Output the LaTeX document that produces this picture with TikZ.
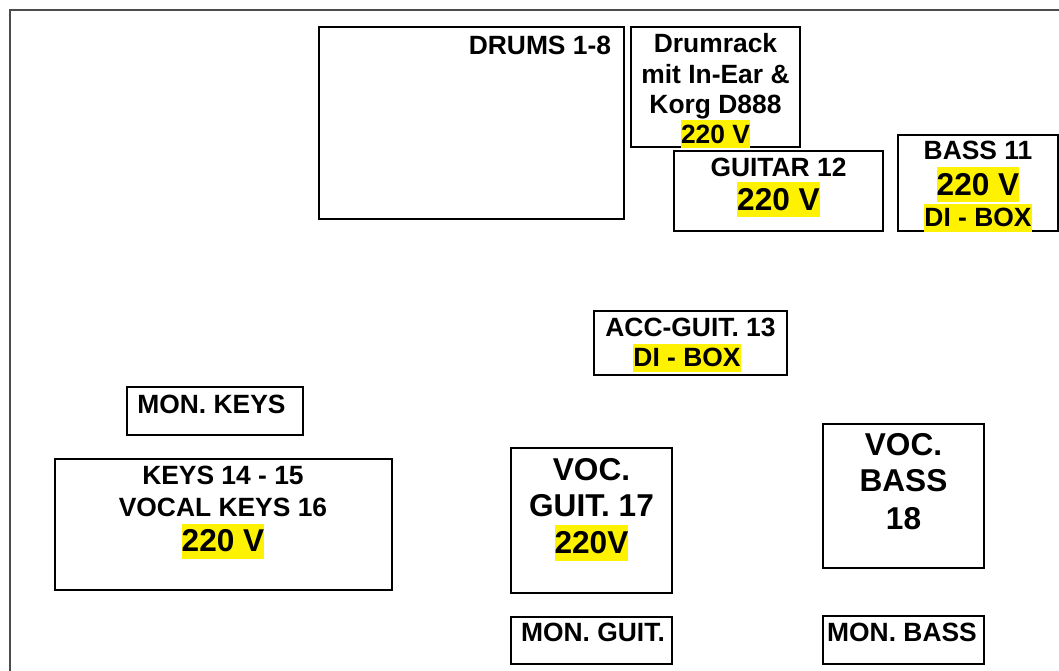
\documentclass[tikz,border=0pt]{standalone}
\usepackage{fontspec}
\setmainfont{Liberation Sans}

\newcommand{\normfont}{\fontsize{13.2}{15.2}\selectfont\bfseries}
\newcommand{\bigfont}{\fontsize{15.8}{18.5}\selectfont\bfseries}

\begin{document}
\begin{tikzpicture}[x=0.5pt,y=-0.5pt,
    box/.style={draw, line width=1pt},
    txt/.style={font=\normfont, anchor=base, inner sep=0pt},
    bigtxt/.style={font=\bigfont, anchor=base, inner sep=0pt},
    hl/.style={fill=yellow, text height=11.4pt, text depth=2.6pt},
    bighl/.style={fill=yellow, text height=14pt, text depth=3.6pt}]

    \useasboundingbox (0,0) rectangle (1059,670);
    \clip (0,0) rectangle (1059,670);

    % Stage outline
    \draw[black!70, line width=0.7pt] (10,10) rectangle (1080,690);

    % Drums
    \draw[box] (319,27) rectangle (623.5,219);
    \node[txt, anchor=base east] (drums) at (611.5,54) {DRUMS 1-8};

    % Drumrack
    \draw[box] (631,27) rectangle (800,147);
    \node[txt] (rackA) at (715.5,52) {Drumrack};
    \node[txt] (rackB) at (715.5,83) {mit In-Ear \&};
    \node[txt] (rackC) at (715.5,113) {Korg D888};
    \node[txt, hl] (rackV) at (715.5,143) {220 V};

    % Guitar amp
    \draw[box] (674,151) rectangle (883,231);
    \node[txt] (guitar) at (778.5,176.7) {GUITAR 12};
    \node[bigtxt, bighl] (guitarV) at (778.5,210) {220 V};

    % Bass amp
    \draw[box] (898,135) rectangle (1058,231);
    \node[txt] (bass) at (978,159.3) {BASS 11};
    \node[bigtxt, bighl] (bassV) at (978,195) {220 V};
    \node[txt, hl] (bassDI) at (978,226.7) {DI - BOX};

    % Acoustic guitar
    \draw[box] (594,311) rectangle (787,375);
    \node[txt] (acc) at (690.5,336.7) {ACC-GUIT. 13};
    \node[txt, hl] (accDI) at (687,366.7) {DI - BOX};

    % Keys
    \draw[box] (127,387) rectangle (303,435);
    \node[txt, anchor=base west] (monkeys) at (137,413.3) {MON. KEYS};
    \draw[box] (54.5,459) rectangle (391.5,590);
    \node[txt] (keysA) at (223,484.3) {KEYS 14 - 15};
    \node[txt] (keysB) at (223,516) {VOCAL KEYS 16};
    \node[bigtxt, bighl] (keysV) at (223,551.7) {220 V};

    % Vocal guitar
    \draw[box] (511,448) rectangle (672,592.5);
    \node[bigtxt] (vguitA) at (591.5,480) {VOC.};
    \node[bigtxt] (vguitB) at (591.5,516) {GUIT. 17};
    \node[bigtxt, bighl] (vguitV) at (591.5,553.3) {220V};
    \draw[box] (511,616.5) rectangle (672,664);
    \node[txt] (monguit) at (593,641.7) {MON. GUIT.};

    % Vocal bass
    \draw[box] (823,424) rectangle (984,568);
    \node[bigtxt] (vbassA) at (903.5,455) {VOC.};
    \node[bigtxt] (vbassB) at (903.5,491.7) {BASS};
    \node[bigtxt] (vbassC) at (903.5,529) {18};
    \draw[box] (823,616) rectangle (984,664);
    \node[txt] (monbass) at (902,641.7) {MON. BASS};

\end{tikzpicture}
\end{document}
